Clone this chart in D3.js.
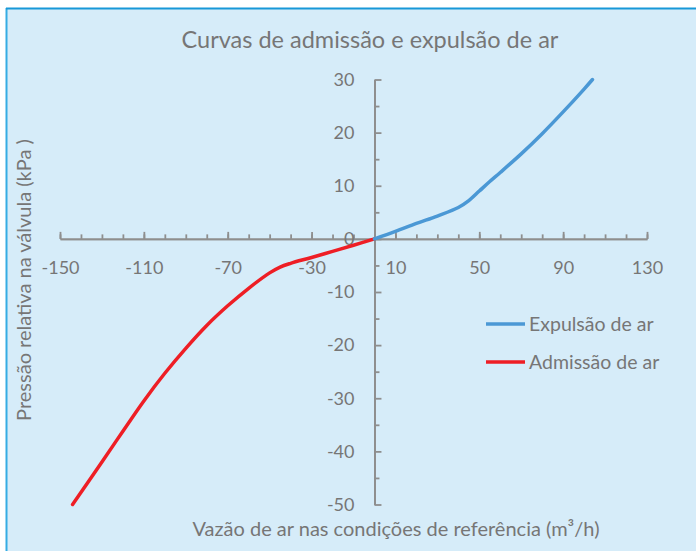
<!DOCTYPE html>
<html>
<head>
<meta charset="utf-8">
<script src="https://cdn.jsdelivr.net/npm/d3@7"></script>
<style>
  body { margin: 0; background: #fff; }
  svg text { font-family: Lato, "Open Sans", sans-serif; fill: #767676; }
</style>
</head>
<body>
<div class="container"></div>
<script>
  // values
  var expulsaoX = [0, 10, 20, 30, 40, 45, 50, 55, 60, 70, 80, 90, 100, 104];
  var expulsaoY = [0, 1.4, 2.9, 4.3, 5.9, 7.2, 9.0, 10.8, 12.5, 16.0, 19.8, 23.9, 28.2, 30];
  var admissaoX = [-144, -130, -120, -110, -100, -90, -80, -70, -60, -50, -45, -40, -30, -20, -10, 0];
  var admissaoY = [-50, -42, -36.2, -30.5, -25.3, -20.6, -16.3, -12.6, -9.3, -6.4, -5.3, -4.6, -3.5, -2.35, -1.2, 0];
  var xLabels = [-150, -110, -70, -30, 10, 50, 90, 130];
  var yLabels = [-50, -40, -30, -20, -10, 0, 10, 20, 30];
  var seriesNames = ['Expulsão de ar', 'Admissão de ar'];
  var seriesColors = ['#4b98d5', '#ee1e25'];

  var width = 696, height = 551;
  var svg = d3.select('.container').append('svg')
              .attr('width', width)
              .attr('height', height);

  // chart background with the blue edge on top and left
  svg.append('rect')
     .attr('x', 6).attr('y', 8)
     .attr('width', width).attr('height', height)
     .style('fill', '#d6ecf9');
  svg.append('line').attr('x1', 6.5).attr('x2', 6.5).attr('y1', 8).attr('y2', height)
     .style('stroke', '#35ace3').style('stroke-width', 2);
  svg.append('line').attr('x1', 6).attr('x2', width).attr('y1', 8.5).attr('y2', 8.5)
     .style('stroke', '#1898d8').style('stroke-width', 2);

  var x = d3.scaleLinear().domain([-150, 130]).range([60, 647]);
  var y = d3.scaleLinear().domain([-50, 30]).range([504.5, 79.5]);
  var fmt = function(d){return String(d);}; // plain hyphen minus like the original

  // x axis: minor ticks every 10, major ticks + labels every 40
  svg.append('g').attr('transform', 'translate(0,' + y(0) + ')')
     .call(d3.axisBottom(x).tickValues(d3.range(-150, 131, 10)).tickSize(-4.5).tickSizeOuter(0).tickFormat(''));
  svg.append('g').attr('transform', 'translate(0,' + y(0) + ')')
     .call(d3.axisBottom(x).tickValues(xLabels).tickSize(-7).tickSizeOuter(0).tickPadding(22).tickFormat(fmt));

  // y axis: ticks to the right, labels to the left
  svg.append('g').attr('transform', 'translate(' + x(0) + ',0)')
     .call(d3.axisLeft(y).tickValues(d3.range(-45, 30, 10)).tickSize(-5).tickSizeOuter(0).tickFormat(''));
  svg.append('g').attr('transform', 'translate(' + x(0) + ',0)')
     .call(d3.axisLeft(y).tickValues(yLabels).tickSize(-7).tickSizeOuter(0).tickPadding(20).tickFormat(fmt));

  svg.selectAll('.domain, .tick line').style('stroke', '#8e8e8e').style('stroke-width', 1.8);
  svg.selectAll('.tick text').style('font-size', '18px').style('fill', '#767676')
     .style('font-family', 'Lato, sans-serif');

  // curves
  var line = d3.line()
               .x(function(d){return x(d[0]);})
               .y(function(d){return y(d[1]);})
               .curve(d3.curveCatmullRom.alpha(0.5));
  var expulsao = expulsaoX.map(function(v, i){return [v, expulsaoY[i]];});
  var admissao = admissaoX.map(function(v, i){return [v, admissaoY[i]];});

  svg.append('path').datum(admissao)
     .attr('d', line)
     .style('fill', 'none').style('stroke', seriesColors[1])
     .style('stroke-width', 3.5).style('stroke-linecap', 'round');
  svg.append('path').datum(expulsao)
     .attr('d', line)
     .style('fill', 'none').style('stroke', seriesColors[0])
     .style('stroke-width', 3.5).style('stroke-linecap', 'round');

  // title and axis titles
  svg.append('text').attr('x', 370).attr('y', 48)
     .attr('text-anchor', 'middle').style('font-size', '23.5px')
     .text('Curvas de admissão e expulsão de ar');
  svg.append('text').attr('x', 396).attr('y', 536)
     .attr('text-anchor', 'middle').style('font-size', '20px')
     .text('Vazão de ar nas condições de referência (m³/h)');
  svg.append('text')
     .attr('transform', 'translate(31,280) rotate(-90)')
     .attr('text-anchor', 'middle').style('font-size', '20px')
     .text('Pressão relativa na válvula (kPa )');

  // legend
  var legend = svg.selectAll('.legend').data(seriesNames).enter().append('g')
                  .attr('class', 'legend')
                  .attr('transform', function(d, i){return 'translate(486,' + (324 + i * 38) + ')';});
  legend.append('line').attr('x1', 0).attr('x2', 39)
        .style('stroke', function(d, i){return seriesColors[i];})
        .style('stroke-width', 3.5);
  legend.append('text').attr('x', 43).attr('dy', '0.35em')
        .style('font-size', '19.5px')
        .text(function(d){return d;});
</script>
</body>
</html>
